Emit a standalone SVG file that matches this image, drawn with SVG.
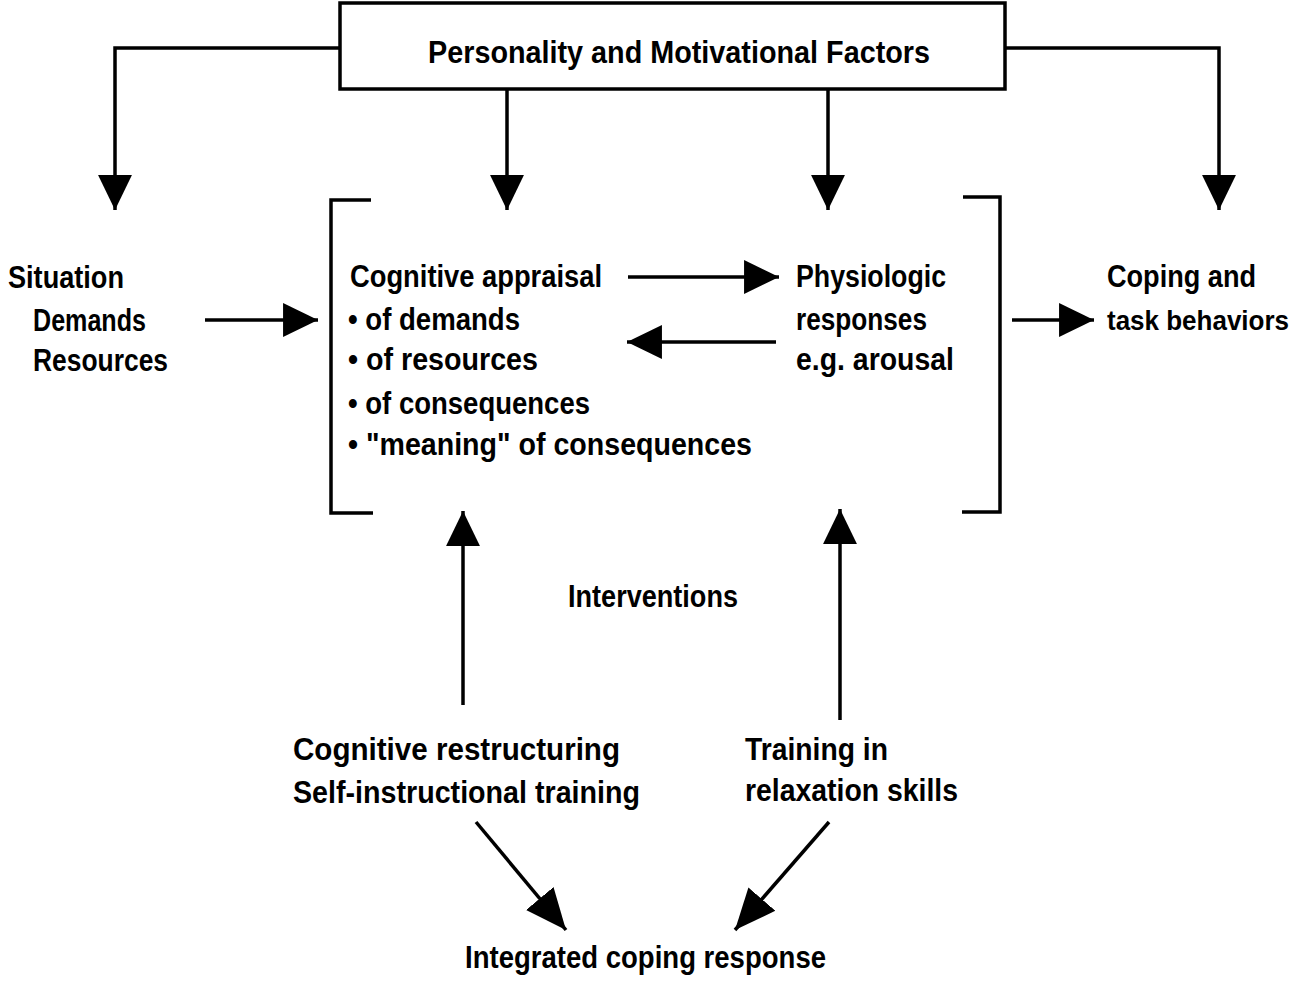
<svg xmlns="http://www.w3.org/2000/svg" width="1307" height="986" viewBox="0 0 1307 986">
  <defs>
    <marker id="head" markerUnits="userSpaceOnUse" markerWidth="36" markerHeight="36" viewBox="0 0 34 34" refX="33" refY="17" orient="auto">
      <path d="M0,1 L33,17 L0,33 Z" fill="#000"/>
    </marker>
    <marker id="head-lg" markerUnits="userSpaceOnUse" markerWidth="42" markerHeight="42" viewBox="0 0 40 40" refX="39" refY="20" orient="auto">
      <path d="M0,3 L39,20 L0,37 Z" fill="#000"/>
    </marker>
    <style>
      .t { font-family: "Liberation Sans", Arial, sans-serif; font-weight: bold; font-size: 31px; fill: #000; }
      .t-edge { font-size: 27px; }
      .ln { stroke: #000; stroke-width: 3.5; fill: none; }
      .box { stroke: #000; stroke-width: 3.5; fill: #fff; }
    </style>
  </defs>
  <rect width="1307" height="986" fill="#fff"/>

  <!-- connectors -->
  <g id="connectors">
    <!-- fan-out from the factors box -->
    <polyline class="ln" points="340,48 115,48 115,210" marker-end="url(#head)"/>
    <line class="ln" x1="507" y1="89" x2="507" y2="210" marker-end="url(#head)"/>
    <line class="ln" x1="828" y1="89" x2="828" y2="210" marker-end="url(#head)"/>
    <polyline class="ln" points="1005,48 1219,48 1219,210" marker-end="url(#head)"/>
    <!-- horizontal flow -->
    <line class="ln" x1="205" y1="320" x2="318" y2="320" marker-end="url(#head)"/>
    <line class="ln" x1="628" y1="277" x2="779" y2="277" marker-end="url(#head)"/>
    <line class="ln" x1="776" y1="342" x2="627" y2="342" marker-end="url(#head)"/>
    <line class="ln" x1="1012" y1="320" x2="1094" y2="320" marker-end="url(#head)"/>
    <!-- interventions -->
    <line class="ln" x1="463" y1="705" x2="463" y2="511" marker-end="url(#head)"/>
    <line class="ln" x1="840" y1="720" x2="840" y2="509" marker-end="url(#head)"/>
    <line class="ln" x1="476" y1="822" x2="566" y2="930" marker-end="url(#head-lg)"/>
    <line class="ln" x1="829" y1="822" x2="735" y2="930" marker-end="url(#head-lg)"/>
  </g>

  <!-- brackets around the appraisal / response block -->
  <g id="bracket-left">
    <polyline class="ln" points="371,200 331,200 331,513 373,513"/>
  </g>
  <g id="bracket-right">
    <polyline class="ln" points="963,197 1000,197 1000,512 962,512"/>
  </g>

  <g id="factors">
    <rect class="box" x="340" y="3" width="665" height="86"/>
    <text class="t" x="428" y="63" textLength="502" lengthAdjust="spacingAndGlyphs">Personality and Motivational Factors</text>
  </g>

  <g id="situation">
    <text class="t" x="8" y="288" textLength="116" lengthAdjust="spacingAndGlyphs">Situation</text>
    <text class="t" x="33" y="331" textLength="113" lengthAdjust="spacingAndGlyphs">Demands</text>
    <text class="t" x="33" y="371" textLength="135" lengthAdjust="spacingAndGlyphs">Resources</text>
  </g>

  <g id="appraisal">
    <text class="t" x="350" y="287" textLength="252" lengthAdjust="spacingAndGlyphs">Cognitive appraisal</text>
    <text class="t" x="348" y="330" textLength="172" lengthAdjust="spacingAndGlyphs">• of demands</text>
    <text class="t" x="348" y="370" textLength="190" lengthAdjust="spacingAndGlyphs">• of resources</text>
    <text class="t" x="348" y="414" textLength="242" lengthAdjust="spacingAndGlyphs">• of consequences</text>
    <text class="t" x="348" y="455" textLength="404" lengthAdjust="spacingAndGlyphs">• "meaning"  of  consequences</text>
  </g>

  <g id="physiologic">
    <text class="t" x="796" y="287" textLength="150" lengthAdjust="spacingAndGlyphs">Physiologic</text>
    <text class="t" x="796" y="330" textLength="131" lengthAdjust="spacingAndGlyphs">responses</text>
    <text class="t" x="796" y="370" textLength="158" lengthAdjust="spacingAndGlyphs">e.g. arousal</text>
  </g>

  <g id="coping">
    <text class="t" x="1107" y="287" textLength="149" lengthAdjust="spacingAndGlyphs">Coping and</text>
    <text class="t t-edge" x="1107" y="330" textLength="182" lengthAdjust="spacingAndGlyphs">task behaviors</text>
  </g>

  <g id="interventions">
    <text class="t" x="568" y="607" textLength="170" lengthAdjust="spacingAndGlyphs">Interventions</text>
  </g>

  <g id="cognitive-restructuring">
    <text class="t" x="293" y="760" textLength="327" lengthAdjust="spacingAndGlyphs">Cognitive  restructuring</text>
    <text class="t" x="293" y="803" textLength="347" lengthAdjust="spacingAndGlyphs">Self-instructional training</text>
  </g>

  <g id="relaxation">
    <text class="t" x="745" y="760" textLength="143" lengthAdjust="spacingAndGlyphs">Training in</text>
    <text class="t" x="745" y="801" textLength="213" lengthAdjust="spacingAndGlyphs">relaxation skills</text>
  </g>

  <g id="integrated">
    <text class="t" x="465" y="968" textLength="361" lengthAdjust="spacingAndGlyphs">Integrated  coping response</text>
  </g>
</svg>
